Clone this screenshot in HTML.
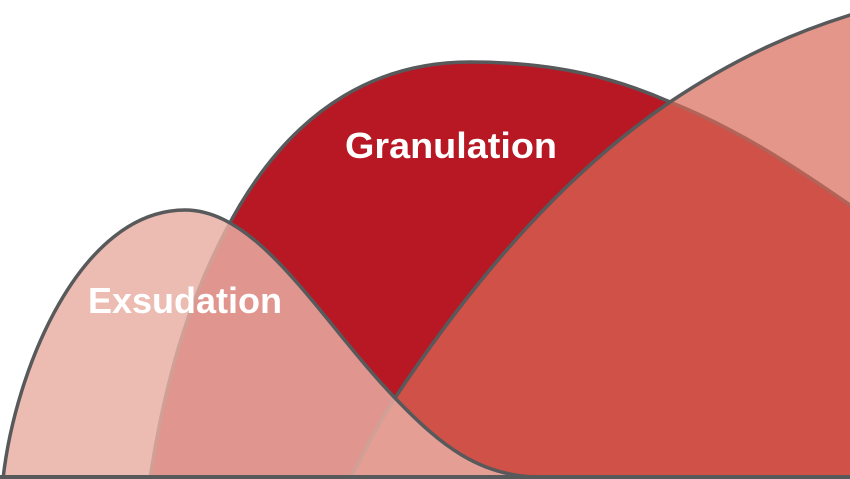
<!DOCTYPE html>
<html><head><style>html,body{margin:0;padding:0;background:#fff}svg{display:block}</style></head>
<body>
<svg width="850" height="479" viewBox="0 0 850 479" xmlns="http://www.w3.org/2000/svg">
<!-- Granulation -->
<path d="M150,479 C165,380 190,290 240,205 C300,105 380,62 470,62 C560,62 620,80 670,102 C740,130 800,170 860,212 L860,479 Z" fill="#b81824" stroke="#58595b" stroke-width="3.5"/>
<!-- Remodeling -->
<path d="M350,479 C365,450 380,420 395,398 C480,270 570,170 670,102 C740,55 800,30 860,12 L860,479 Z" fill="rgb(216,105,88)" fill-opacity="0.7" stroke="#58595b" stroke-width="3.5"/>
<!-- Exsudation -->
<path d="M3,479 C15,370 80,210 185,210 C260,210 320,320 395,398 C440,445 480,477 540,477 Z" fill="rgb(232,175,163)" fill-opacity="0.83" stroke="none"/>
<path d="M3,479 C15,370 80,210 185,210 C260,210 320,320 395,398 C440,445 480,477 540,477" fill="none" stroke="#58595b" stroke-width="3.5"/>
<!-- baseline -->
<rect x="0" y="475" width="850" height="4" fill="#58595b"/>
<text x="451" y="158" text-anchor="middle" font-family="Liberation Sans, sans-serif" font-weight="bold" font-size="36" fill="#fff" textLength="212" lengthAdjust="spacingAndGlyphs">Granulation</text>
<text x="185" y="313" text-anchor="middle" font-family="Liberation Sans, sans-serif" font-weight="bold" font-size="36" fill="#fff" textLength="194" lengthAdjust="spacingAndGlyphs">Exsudation</text>
</svg>
</body></html>
